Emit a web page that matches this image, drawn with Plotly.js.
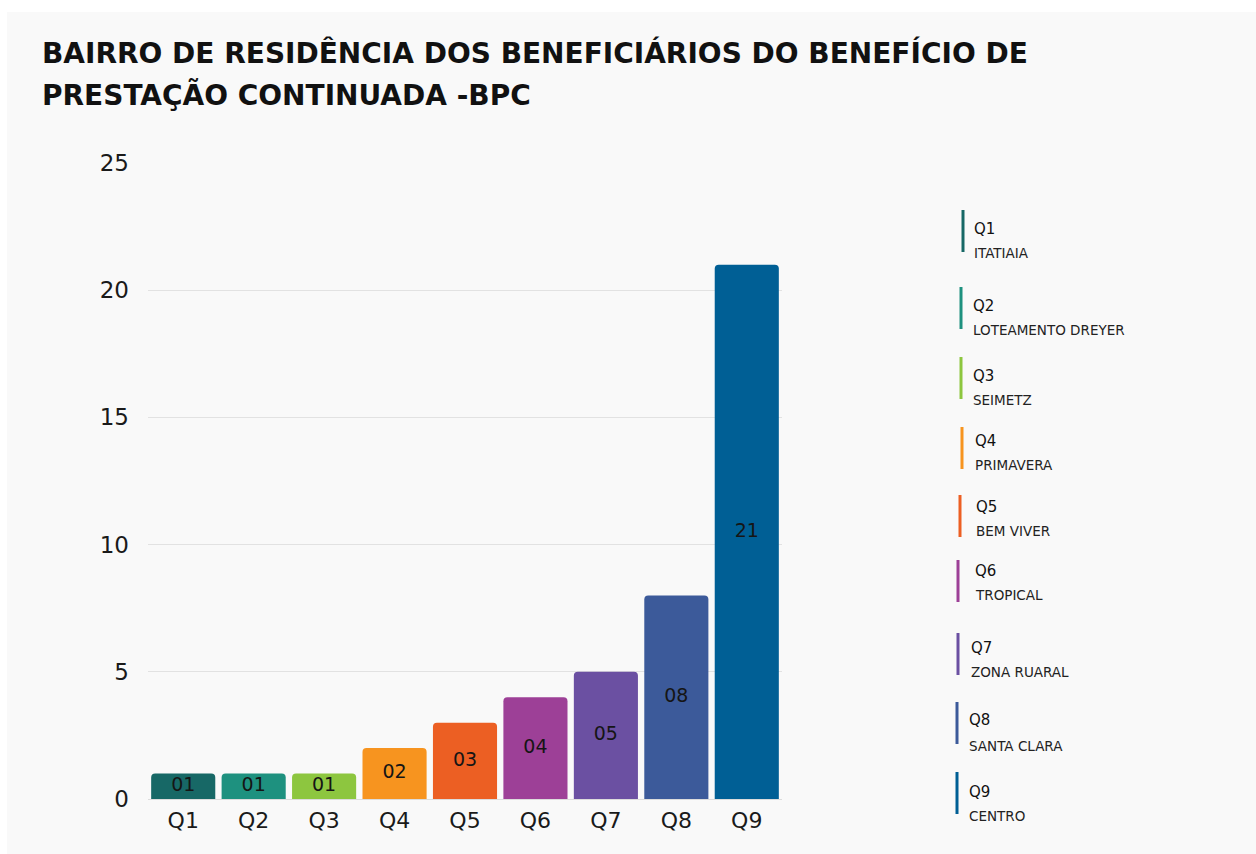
<!DOCTYPE html>
<html>
<head>
<meta charset="utf-8">
<script src="https://cdn.plot.ly/plotly-3.0.1.min.js"></script>
<style>
  html, body { margin: 0; padding: 0; background: #ffffff; width: 1256px; height: 854px; overflow: hidden; }
  #chart { position: absolute; left: 7px; top: 12px; width: 1249px; height: 842px; }
</style>
</head>
<body>
<div id="chart"></div>
<script>
const categories = ["Q1", "Q2", "Q3", "Q4", "Q5", "Q6", "Q7", "Q8", "Q9"];
const values = [1, 1, 1, 2, 3, 4, 5, 8, 21];
const barLabels = ["01", "01", "01", "02", "03", "04", "05", "08", "21"];
const neighborhoods = ["ITATIAIA", "LOTEAMENTO DREYER", "SEIMETZ", "PRIMAVERA", "BEM VIVER", "TROPICAL", "ZONA RUARAL", "SANTA CLARA", "CENTRO"];
const colors = ["#176866", "#1e917f", "#8dc63f", "#f7941f", "#ec5f23", "#9d4097", "#6b50a2", "#3c5a9a", "#005f95"];
const yTicks = [0, 5, 10, 15, 20, 25];
const titleLines = ["BAIRRO DE RESIDÊNCIA DOS BENEFICIÁRIOS DO BENEFÍCIO DE", "PRESTAÇÃO CONTINUADA -BPC"];

// page geometry (pixels in the 1256x854 page)
const W = 1249, H = 842;
const OFF_X = 7, OFF_Y = 12;
const PLOT_L = 148, PLOT_R = 782, PLOT_T = 163, PLOT_B = 799;
const px2x = p => (p - PLOT_L) / (PLOT_R - PLOT_L);
const py2y = p => (PLOT_B - p) / (PLOT_B - PLOT_T);

// custom legend layout (page pixels)
const legBarX = [963, 961, 961, 962, 960, 958, 958, 957, 957];
const legBarTop = [210, 287, 357, 427, 495, 560, 633, 702, 772];
const legTextX = [972, 971, 971, 973, 974, 973, 969, 967, 967];
const legCodeY = [229, 306, 376, 441, 507, 571, 648, 720, 792];
const legNameY = [253, 330, 400, 465, 531, 595, 672, 746, 816];

const titleFont = {family: "'DejaVu Sans', sans-serif", size: 28, color: "#111111", weight: 700};

const shapes = [];
const annotations = [];
categories.forEach((c, i) => {
  shapes.push({type: "line", xref: "paper", yref: "paper",
    x0: px2x(legBarX[i]), x1: px2x(legBarX[i]),
    y0: py2y(legBarTop[i] + 42), y1: py2y(legBarTop[i]),
    line: {color: colors[i], width: 3}});
  annotations.push({xref: "paper", yref: "paper", x: px2x(legTextX[i]), y: py2y(legCodeY[i]),
    xanchor: "left", yanchor: "middle", showarrow: false, text: c,
    font: {family: "'DejaVu Sans', sans-serif", size: 15, color: "#111111"}});
  annotations.push({xref: "paper", yref: "paper", x: px2x(legTextX[i]), y: py2y(legNameY[i]),
    xanchor: "left", yanchor: "middle", showarrow: false, text: neighborhoods[i],
    font: {family: "'DejaVu Sans', sans-serif", size: 13.5, color: "#222222"}});
});
// second title line
annotations.push({xref: "paper", yref: "paper", x: px2x(40), y: py2y(95),
  xanchor: "left", yanchor: "middle", showarrow: false, text: titleLines[1], font: titleFont});

const bars = {
  type: "bar",
  x: categories,
  y: values,
  marker: {color: colors, cornerradius: 4, line: {width: 0}},
  hoverinfo: "none"
};

const labels = {
  type: "scatter",
  mode: "text",
  x: categories,
  y: values.map(v => v / 2),
  text: barLabels,
  textposition: "middle center",
  textfont: {family: "'DejaVu Sans', sans-serif", size: 19, color: "#151515"},
  hoverinfo: "none",
  cliponaxis: false
};

const layout = {
  width: W, height: H,
  paper_bgcolor: "#f9f9f9",
  plot_bgcolor: "#f9f9f9",
  margin: {l: PLOT_L - OFF_X, r: W - (PLOT_R - OFF_X), t: PLOT_T - OFF_Y, b: H - (PLOT_B - OFF_Y)},
  bargap: 0.09,
  showlegend: false,
  title: {
    text: titleLines[0],
    xref: "container", yref: "container",
    x: (42 - OFF_X) / W, xanchor: "left",
    y: 1 - (53 - OFF_Y) / H, yanchor: "middle",
    font: titleFont
  },
  xaxis: {
    type: "category",
    tickfont: {family: "'DejaVu Sans', sans-serif", size: 22, color: "#1a1a1a"},
    showgrid: false, showline: false, zeroline: false,
    ticks: "", ticklabelstandoff: 6
  },
  yaxis: {
    range: [0, 25],
    tickvals: yTicks,
    ticktext: yTicks.map(String),
    tickfont: {family: "'DejaVu Sans', sans-serif", size: 23, color: "#1a1a1a"},
    showgrid: true, gridcolor: "#e2e2e2", gridwidth: 1,
    zeroline: true, zerolinecolor: "#dcdcdc",
    showline: false, ticks: "", ticklabelstandoff: 18
  },
  shapes: shapes,
  annotations: annotations
};

Plotly.newPlot("chart", [bars, labels], layout, {displayModeBar: false, staticPlot: true});
</script>
</body>
</html>
